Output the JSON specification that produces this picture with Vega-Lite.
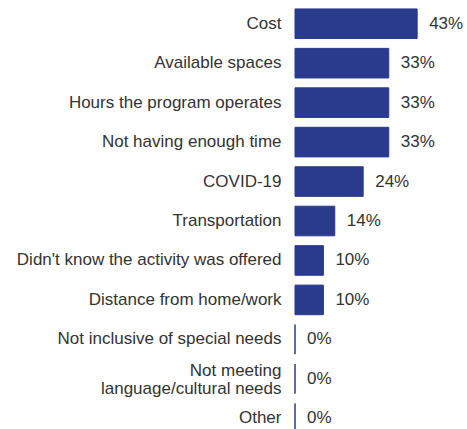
{
  "$schema": "https://vega.github.io/schema/vega-lite/v6.json",
  "autosize": "none",
  "padding": {"left": 295, "top": 4, "right": 22, "bottom": 0},
  "width": 150,
  "height": 434,
  "background": "white",
  "config": {"view": {"stroke": null}, "font": "Liberation Sans"},
  "data": {
    "values": [
      {"reason": "Cost", "pct": 43},
      {"reason": "Available spaces", "pct": 33},
      {"reason": "Hours the program operates", "pct": 33},
      {"reason": "Not having enough time", "pct": 33},
      {"reason": "COVID-19", "pct": 24},
      {"reason": "Transportation", "pct": 14},
      {"reason": "Didn't know the activity was offered", "pct": 10},
      {"reason": "Distance from home/work", "pct": 10},
      {"reason": "Not inclusive of special needs", "pct": 0},
      {"reason": "Not meeting|language/cultural needs", "pct": 0},
      {"reason": "Other", "pct": 0}
    ]
  },
  "encoding": {
    "y": {
      "field": "reason",
      "type": "nominal",
      "sort": null,
      "scale": {"paddingInner": 0.25, "paddingOuter": 0.125},
      "axis": {
        "title": null,
        "domain": false,
        "ticks": false,
        "labelPadding": 14,
        "labelFontSize": 17,
        "labelColor": "#333333",
        "labelLimit": 400,
        "labelLineHeight": 18,
        "labelOffset": {"condition": {"test": "indexof(datum.value, '|') >= 0", "value": -8}, "value": 0},
        "labelExpr": "split(datum.label, '|')"
      }
    },
    "x": {
      "field": "pct",
      "type": "quantitative",
      "scale": {"domain": [0, 52.8]},
      "axis": null
    }
  },
  "layer": [
    {
      "mark": {"type": "bar", "color": "#2a3a8c", "stroke": "#2a3a8c", "strokeWidth": 1}
    },
    {
      "transform": [{"calculate": "datum.pct + '%'", "as": "lbl"}],
      "mark": {"type": "text", "align": "left", "dx": 12, "fontSize": 17, "color": "#333333"},
      "encoding": {"text": {"field": "lbl", "type": "nominal"}}
    }
  ]
}
